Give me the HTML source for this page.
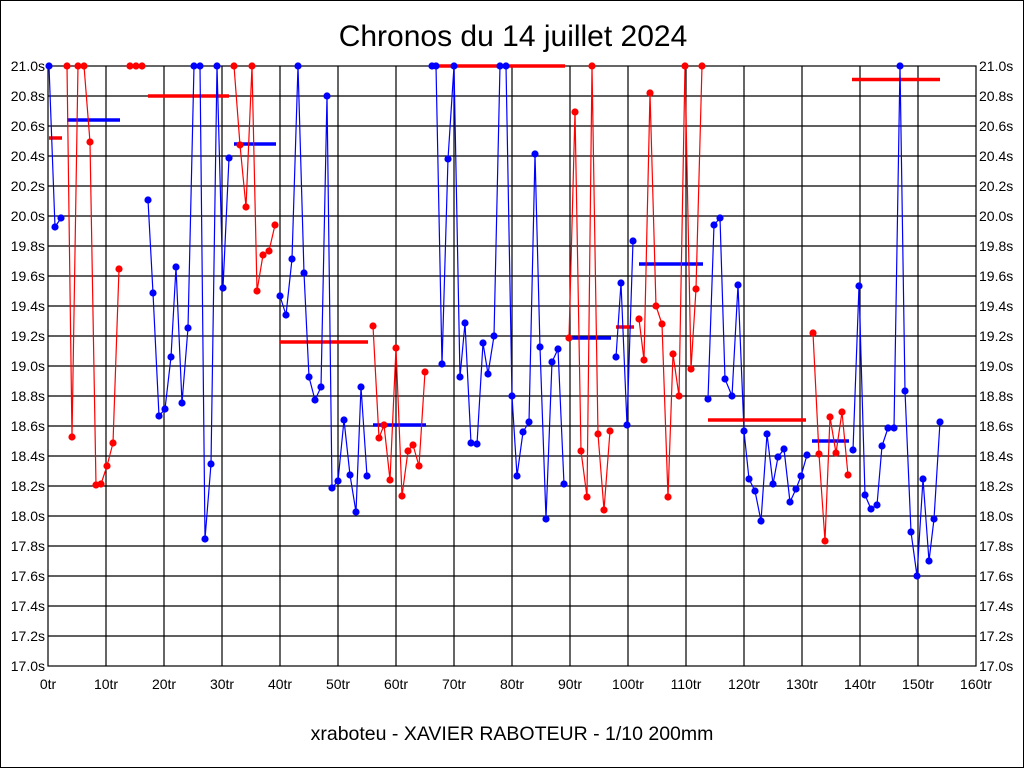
<!DOCTYPE html>
<html><head><meta charset="utf-8"><style>
html,body{margin:0;padding:0;background:#fff}
svg{display:block}
text{font-family:"Liberation Sans",sans-serif;fill:#000}
</style></head><body>
<svg width="1024" height="768" viewBox="0 0 1024 768" xmlns="http://www.w3.org/2000/svg">
<defs>
<marker id="mb" markerWidth="8" markerHeight="8" refX="4" refY="4" markerUnits="userSpaceOnUse"><circle cx="4" cy="4" r="3.6" fill="#0000ff"/></marker>
<marker id="mr" markerWidth="8" markerHeight="8" refX="4" refY="4" markerUnits="userSpaceOnUse"><circle cx="4" cy="4" r="3.6" fill="#ff0000"/></marker>
</defs>
<rect x="0.5" y="0.5" width="1023" height="767" fill="#fff" stroke="#000"/>
<text x="513" y="46" font-size="30" text-anchor="middle">Chronos du 14 juillet 2024</text>
<text x="512" y="740" font-size="19.5" text-anchor="middle">xraboteu - XAVIER RABOTEUR - 1/10 200mm</text>
<g stroke="#000" stroke-width="1.2" fill="none">
<rect x="48" y="66" width="928" height="600"/>
<path d="M106 66V666M164 66V666M222 66V666M280 66V666M338 66V666M396 66V666M454 66V666M512 66V666M570 66V666M628 66V666M686 66V666M744 66V666M802 66V666M860 66V666M918 66V666"/>
<path d="M48 96H976M48 126H976M48 156H976M48 186H976M48 216H976M48 246H976M48 276H976M48 306H976M48 336H976M48 366H976M48 396H976M48 426H976M48 456H976M48 486H976M48 516H976M48 546H976M48 576H976M48 606H976M48 636H976"/>
</g>
<g font-size="14" text-anchor="end">
<text x="45" y="71">21.0s</text><text x="45" y="101">20.8s</text><text x="45" y="131">20.6s</text><text x="45" y="161">20.4s</text><text x="45" y="191">20.2s</text><text x="45" y="221">20.0s</text><text x="45" y="251">19.8s</text><text x="45" y="281">19.6s</text><text x="45" y="311">19.4s</text><text x="45" y="341">19.2s</text><text x="45" y="371">19.0s</text><text x="45" y="401">18.8s</text><text x="45" y="431">18.6s</text><text x="45" y="461">18.4s</text><text x="45" y="491">18.2s</text><text x="45" y="521">18.0s</text><text x="45" y="551">17.8s</text><text x="45" y="581">17.6s</text><text x="45" y="611">17.4s</text><text x="45" y="641">17.2s</text><text x="45" y="671">17.0s</text>
</g>
<g font-size="14" text-anchor="start">
<text x="979" y="71">21.0s</text><text x="979" y="101">20.8s</text><text x="979" y="131">20.6s</text><text x="979" y="161">20.4s</text><text x="979" y="191">20.2s</text><text x="979" y="221">20.0s</text><text x="979" y="251">19.8s</text><text x="979" y="281">19.6s</text><text x="979" y="311">19.4s</text><text x="979" y="341">19.2s</text><text x="979" y="371">19.0s</text><text x="979" y="401">18.8s</text><text x="979" y="431">18.6s</text><text x="979" y="461">18.4s</text><text x="979" y="491">18.2s</text><text x="979" y="521">18.0s</text><text x="979" y="551">17.8s</text><text x="979" y="581">17.6s</text><text x="979" y="611">17.4s</text><text x="979" y="641">17.2s</text><text x="979" y="671">17.0s</text>
</g>
<g font-size="14" text-anchor="middle">
<text x="48" y="689">0tr</text><text x="106" y="689">10tr</text><text x="164" y="689">20tr</text><text x="222" y="689">30tr</text><text x="280" y="689">40tr</text><text x="338" y="689">50tr</text><text x="396" y="689">60tr</text><text x="454" y="689">70tr</text><text x="512" y="689">80tr</text><text x="570" y="689">90tr</text><text x="628" y="689">100tr</text><text x="686" y="689">110tr</text><text x="744" y="689">120tr</text><text x="802" y="689">130tr</text><text x="860" y="689">140tr</text><text x="918" y="689">150tr</text><text x="976" y="689">160tr</text>
</g>
<g stroke-width="3.5">
<path stroke="#ff0000" d="M49 138H62M148 96H229M280 342H368M431 66H565M616 327H634M708 420H806M852 79.5H940"/>
<path stroke="#0000ff" d="M67 120H120M234 144H276M373 425H426M569 338H611M639 264H703M812 441H849"/>
</g>
<g fill="none" stroke-width="1.2" stroke-linejoin="round">
<polyline stroke="#0000ff" marker-start="url(#mb)" marker-mid="url(#mb)" marker-end="url(#mb)" points="49,66 55,227 61,218"/>
<polyline stroke="#ff0000" marker-start="url(#mr)" marker-mid="url(#mr)" marker-end="url(#mr)" points="67,66 72,437 78,66 84,66 90,142 96,485 101,484 107,466 113,443 119,269"/>
<polyline stroke="#ff0000" marker-start="url(#mr)" marker-mid="url(#mr)" marker-end="url(#mr)" points="130,66 136,66 142,66"/>
<polyline stroke="#0000ff" marker-start="url(#mb)" marker-mid="url(#mb)" marker-end="url(#mb)" points="148,200 153,293 159,416 165,409 171,357 176,267 182,403 188,328 194,66 200,66 205,539 211,464 217,66 223,288 229,158"/>
<polyline stroke="#ff0000" marker-start="url(#mr)" marker-mid="url(#mr)" marker-end="url(#mr)" points="234,66 240,145 246,207 252,66 257,291 263,255 269,251 275,225"/>
<polyline stroke="#0000ff" marker-start="url(#mb)" marker-mid="url(#mb)" marker-end="url(#mb)" points="280,296 286,315 292,259 298,66 304,273 309,377 315,400 321,387 327,96 332,488 338,481 344,420 350,475 356,512 361,387 367,476"/>
<polyline stroke="#ff0000" marker-start="url(#mr)" marker-mid="url(#mr)" marker-end="url(#mr)" points="373,326 379,438 384,425 390,480 396,348 402,496 408,451 413,445 419,466 425,372"/>
<polyline stroke="#0000ff" marker-start="url(#mb)" marker-mid="url(#mb)" marker-end="url(#mb)" points="432,66 436,66 442,364 448,159 454,66 460,377 465,323 471,443 477,444 483,343 488,374 494,336 500,66 506,66 512,396 517,476 523,432 529,422 535,154 540,347 546,519 552,362 558,349 564,484"/>
<polyline stroke="#ff0000" marker-start="url(#mr)" marker-mid="url(#mr)" marker-end="url(#mr)" points="569,338 575,112 581,451 587,497 592,66 598,434 604,510 610,431"/>
<polyline stroke="#0000ff" marker-start="url(#mb)" marker-mid="url(#mb)" marker-end="url(#mb)" points="616,357 621,283 627,425 633,241"/>
<polyline stroke="#ff0000" marker-start="url(#mr)" marker-mid="url(#mr)" marker-end="url(#mr)" points="639,319 644,360 650,93 656,306 662,324 668,497 673,354 679,396 685,66 691,369 696,289 702,66"/>
<polyline stroke="#0000ff" marker-start="url(#mb)" marker-mid="url(#mb)" marker-end="url(#mb)" points="708,399 714,225 720,218 725,379 732,396 738,285 744,431 749,479 755,491 761,521 767,434 773,484 778,457 784,449 790,502 796,489 801,476 807,455"/>
<polyline stroke="#ff0000" marker-start="url(#mr)" marker-mid="url(#mr)" marker-end="url(#mr)" points="813,333 819,454 825,541 830,417 836,453 842,412 848,475"/>
<polyline stroke="#0000ff" marker-start="url(#mb)" marker-mid="url(#mb)" marker-end="url(#mb)" points="853,450 859,286 865,495 871,509 877,505 882,446 888,428 894,428 900,66 905,391 911,532 917,576 923,479 929,561 934,519 940,422"/>
</g>
</svg>
</body></html>
